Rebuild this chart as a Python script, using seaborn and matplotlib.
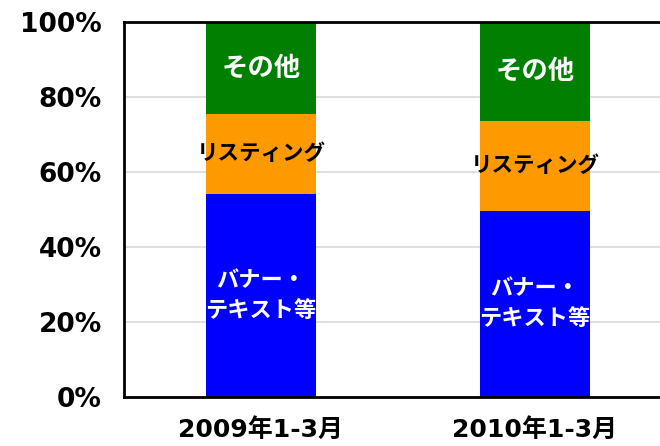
import numpy as np
import pandas as pd
import matplotlib
matplotlib.use("Agg")
import matplotlib.pyplot as plt
import seaborn as sns

categories = ["2009年1-3月", "2010年1-3月"]
banner = [54.2, 49.6]
listing = [21.3, 24.0]
other = [24.5, 26.4]
segment_labels = ["バナー・\nテキスト等", "リスティング", "その他"]
segment_colors = ["#0000FF", "#FF9900", "#007F00"]
label_colors = ["white", "black", "white"]
yticks = [0, 20, 40, 60, 80, 100]
ytick_labels = ["0%", "20%", "40%", "60%", "80%", "100%"]

sns.set_style("white")
plt.rcParams["font.family"] = ["Noto Sans CJK JP", "DejaVu Sans"]
plt.rcParams["text.color"] = "black"
plt.rcParams["xtick.color"] = "black"
plt.rcParams["ytick.color"] = "black"

fig = plt.figure(figsize=(6.6, 4.46), dpi=100)
ax = fig.add_axes([124 / 660, 49 / 446, 548 / 660, 375 / 446])

series = [banner, listing, other]
cum = np.cumsum(np.array(series), axis=0)
df = pd.DataFrame({"cat": categories})
# draw from top of stack downwards so lower segments overlay
for i in [2, 1, 0]:
    df["v"] = cum[i]
    sns.barplot(data=df, x="cat", y="v", color=segment_colors[i], width=0.405,
                saturation=1, ax=ax, zorder=2, edgecolor="none", linewidth=0)

fs = [16, 15.5, 19]
for j in range(len(categories)):
    for i in range(3):
        lo = cum[i - 1][j] if i > 0 else 0
        hi = cum[i][j]
        ax.text(j, (lo + hi) / 2, segment_labels[i], ha="center", va="center",
                color=label_colors[i], fontsize=fs[i], fontweight="bold",
                linespacing=1.38, zorder=5)

ax.set_xlim(-0.5, 1.5)
ax.set_ylim(0, 100)
ax.set_yticks(yticks)
ax.set_yticklabels(ytick_labels, family=["DejaVu Sans"], fontweight="bold", fontsize=19,
                   color="black")
ax.set_xticks([0.5])
ax.set_xticklabels([])
ax.set_xticks([0, 1], minor=True)
ax.set_xticklabels(categories, minor=True, fontsize=18, fontweight="bold",
                   family=["DejaVu Sans", "Noto Sans CJK JP"], color="black")
ax.tick_params(axis="x", which="minor", length=0, pad=15)
ax.tick_params(axis="x", which="major", direction="in", length=8, width=1.5, color="black")
ax.tick_params(axis="y", direction="in", length=8, width=1.5, pad=16, color="black")
ax.set_xlabel("")
ax.set_ylabel("")
ax.yaxis.grid(True, color="#d9d9d9", linewidth=1.2)
ax.set_axisbelow(True)
for s in ["left", "bottom", "top"]:
    ax.spines[s].set_color("black")
    ax.spines[s].set_linewidth(2)
ax.spines["right"].set_visible(False)

fig.savefig("out.png", dpi=100)
